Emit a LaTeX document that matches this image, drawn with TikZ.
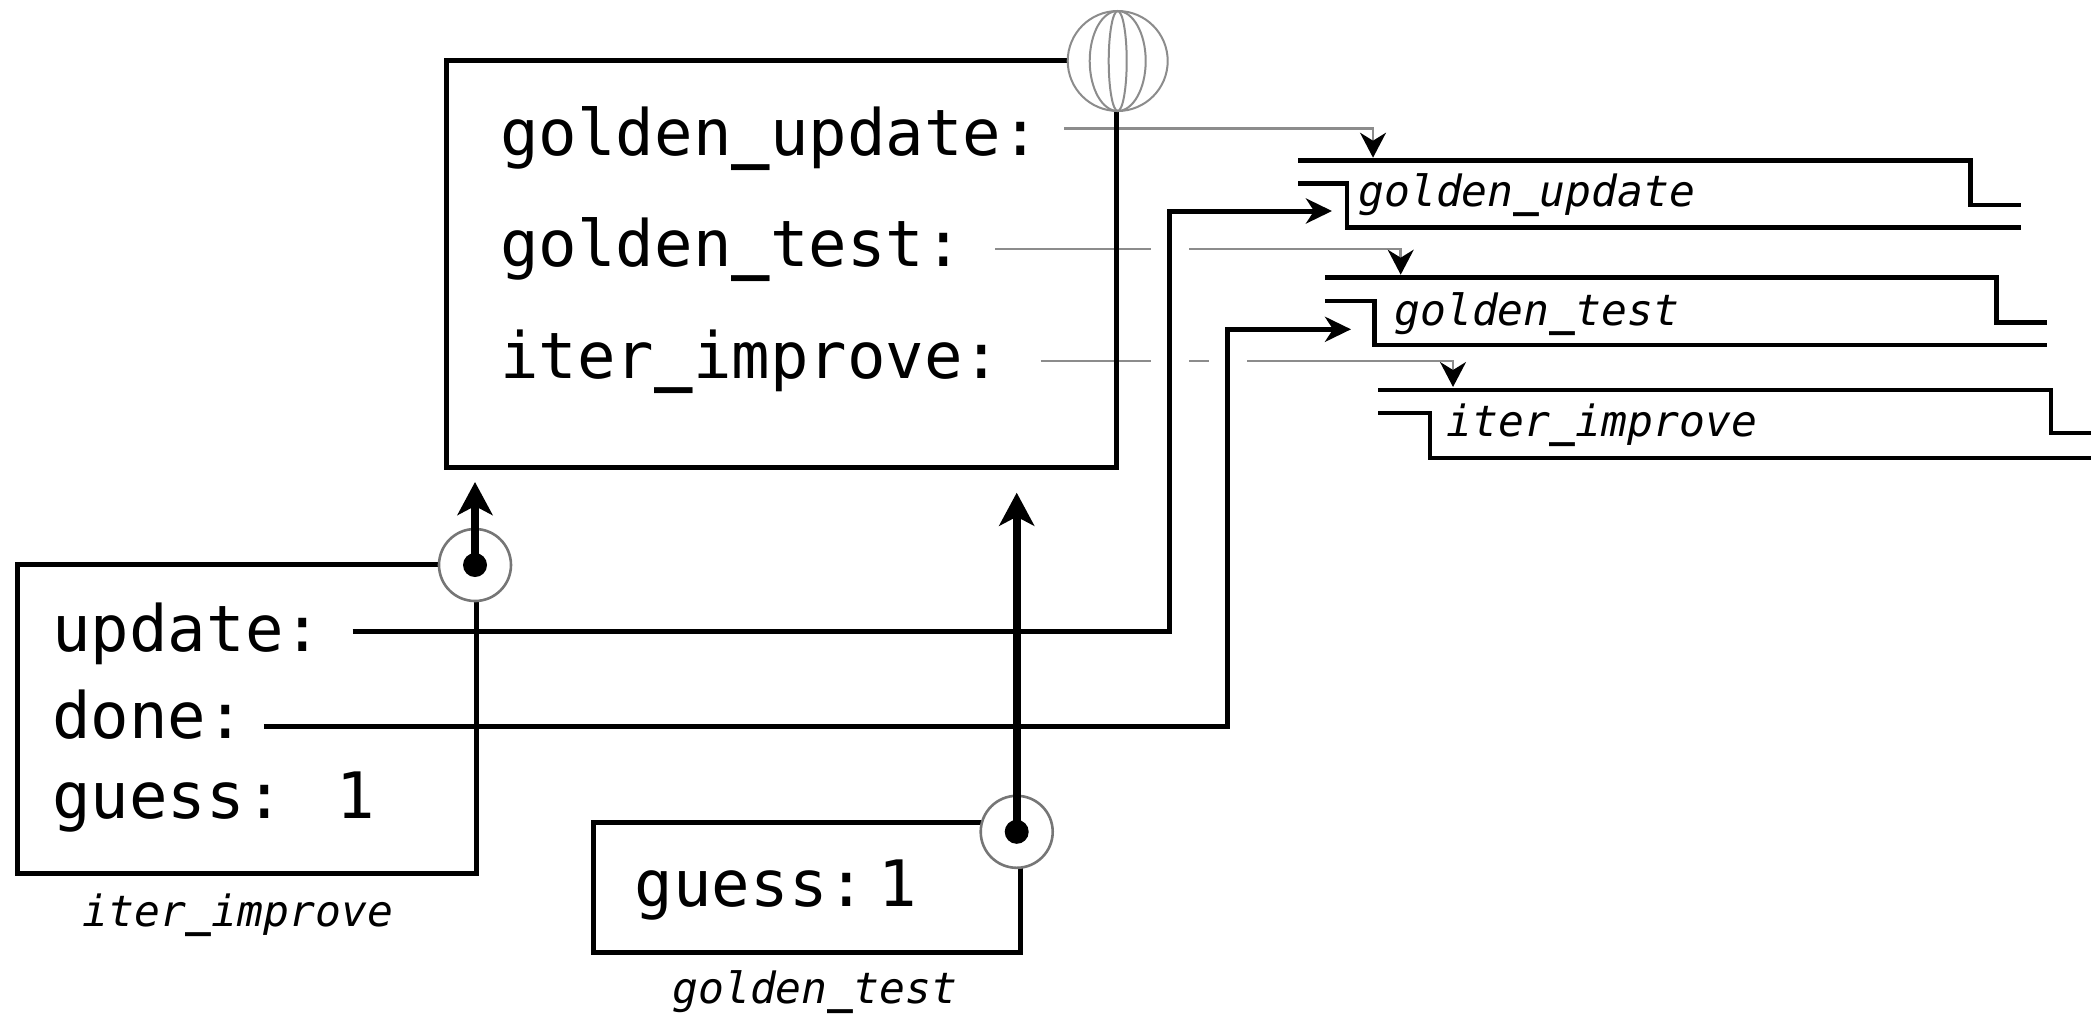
\documentclass[tikz,border=0pt]{standalone}
\usepackage{fontspec}
\setmonofont{DejaVu Sans Mono}[
  ItalicFont={DejaVu Sans Mono Oblique},
  BoldFont={DejaVu Sans Mono Bold},
  BoldItalicFont={DejaVu Sans Mono Bold Oblique}]
\usetikzlibrary{arrows.meta,calc}

\definecolor{wire}{HTML}{8C8C8C}
\definecolor{ring}{HTML}{767676}
% heavier underscore, as the identifiers are printed
\newcommand{\us}{{\bfseries\_}}

\begin{document}
\begin{tikzpicture}[x=0.5pt,y=-0.5pt,
  framebox/.style={draw, line width=2.5pt, inner sep=0pt, outer sep=0pt, anchor=north west},
  bigtext/.style={font=\fontsize{32pt}{38pt}\selectfont\ttfamily, inner sep=0pt, anchor=base west},
  fnlabel/.style={font=\fontsize{21.5pt}{26pt}\selectfont\ttfamily\itshape, inner sep=0pt, anchor=base west},
  ptrring/.style={circle, draw=ring, line width=1.3pt, fill=white, minimum size=36pt, inner sep=0pt},
  globe/.style={circle, draw=wire, line width=1pt, fill=white, minimum size=50pt, inner sep=0pt},
  namewire/.style={draw=wire, line width=1.3pt, -{Stealth[color=black, length=12.5pt, width=13pt, inset=4pt]}},
  bridge/.style={draw=white, line width=19pt},
  valwire/.style={draw=black, line width=2.5pt, -{Stealth[length=13pt, width=12.5pt, inset=4pt]}},
  envwire/.style={draw=black, line width=3.85pt, -{Stealth[length=16.5pt, width=17.5pt, inset=4.5pt]}},
  fnbox/.style={draw=black, line width=2.35pt},
]
\clip (0,0) rectangle (2091,1018);

% ---- global frame texts
\node[bigtext] (gu) at (500,155) {golden\us update:};
\node[bigtext] (gt) at (500,266.7) {golden\us test:};
\node[bigtext] (gi) at (500,378) {iter\us improve:};

% ---- function value anchors
\coordinate (f1) at (1298,160.7);
\coordinate (f2) at (1325,277.7);
\coordinate (f3) at (1378,390);

% ---- name-to-function wires
\draw[namewire] ([shift={(24,-26.7)}]gu.base east) -| ($(f1)+(75,-3)$);
\draw[namewire] ([shift={(32,-17.7)}]gt.base east) -| ($(f2)+(75.7,-3)$);
\draw[namewire] ([shift={(39,-17)}]gi.base east) -| ($(f3)+(75,-3)$);

% ---- local frame texts
\node[bigtext] (vupd) at (52,651.7) {update:};
\node[bigtext] (vdone) at (52,738.3) {done:};
\node[bigtext] (vguess) at (52,818.3) {guess:};
\node[bigtext] (vone) at (336,818.3) {1};
\node[bigtext] (tguess) at (634.5,906) {guess:};
\node[bigtext] (tone) at (878,906) {1};

% ---- bridges where value wires pass over name wires
\draw[bridge] (1169.5,236) -- (1169.5,374);
\draw[bridge] (1227.5,348) -- (1227.5,374);

% ---- value wires
\coordinate (a1) at ($(f1)+(34,50.3)$);
\coordinate (a2) at ($(f2)+(26,51.6)$);
\draw[valwire] ([shift={(30,-20)}]vupd.base east) -| ($(a1)+(-162.5,0)$) -- (a1);
\draw[valwire] ([shift={(18.4,-11.6)}]vdone.base east) -| ($(a2)+(-123.5,0)$) -- (a2);

% ---- function values
\draw[fnbox] (f1) -- ++(672.6,0) -- ++(0,44.3) -- ++(50.4,0);
\draw[fnbox] ($(f1)+(0,22.6)$) -- ++(49,0) -- ++(0,44.4) -- ++(674,0);
\node[fnlabel] (n1) at ($(f1)+(60,46)$) {golden\us update};

\draw[fnbox] (f2) -- ++(671.5,0) -- ++(0,44.6) -- ++(50.5,0);
\draw[fnbox] ($(f2)+(0,23.3)$) -- ++(49.7,0) -- ++(0,44) -- ++(672.3,0);
\node[fnlabel] (n2) at ($(f2)+(69,47.3)$) {golden\us test};

\draw[fnbox] (f3) -- ++(673,0) -- ++(0,43) -- ++(60,0);
\draw[fnbox] ($(f3)+(0,23)$) -- ++(52,0) -- ++(0,45) -- ++(680,0);
\node[fnlabel] (n3) at ($(f3)+(68,46.7)$) {iter\us improve};

% ---- frames
\node[framebox, minimum width=335pt, minimum height=203.5pt] (gframe) at (446,60) {};
\node[framebox, minimum width=229.5pt, minimum height=154.5pt] (iframe) at (17,564) {};
\node[framebox, minimum width=213.7pt, minimum height=65.1pt] (tframe) at (593.3,822.2) {};

\node[fnlabel] (liter) at (82,926) {iter\us improve};
\node[fnlabel] (lgt) at (672,1003) {golden\us test};

% ---- global frame marker
\node[globe] (globe) at (1117.7,61) {};
\draw[wire, line width=1pt] (globe.center) ellipse [x radius=14pt, y radius=25pt];
\draw[wire, line width=1pt] (globe.center) ellipse [x radius=4.5pt, y radius=25pt];

% ---- parent pointers
\node[ptrring] (p1) at (475,565) {};
\node[ptrring] (p2) at (1016.7,831.8) {};
\fill (p1.center) circle[radius=6pt];
\fill (p2.center) circle[radius=6pt];
\coordinate (e1) at (475,482);
\coordinate (e2) at (1016.7,492.7);
\draw[envwire] (p1.center) -- (e1);
\draw[envwire] (p2.center) -- (e2);
\end{tikzpicture}
\end{document}
